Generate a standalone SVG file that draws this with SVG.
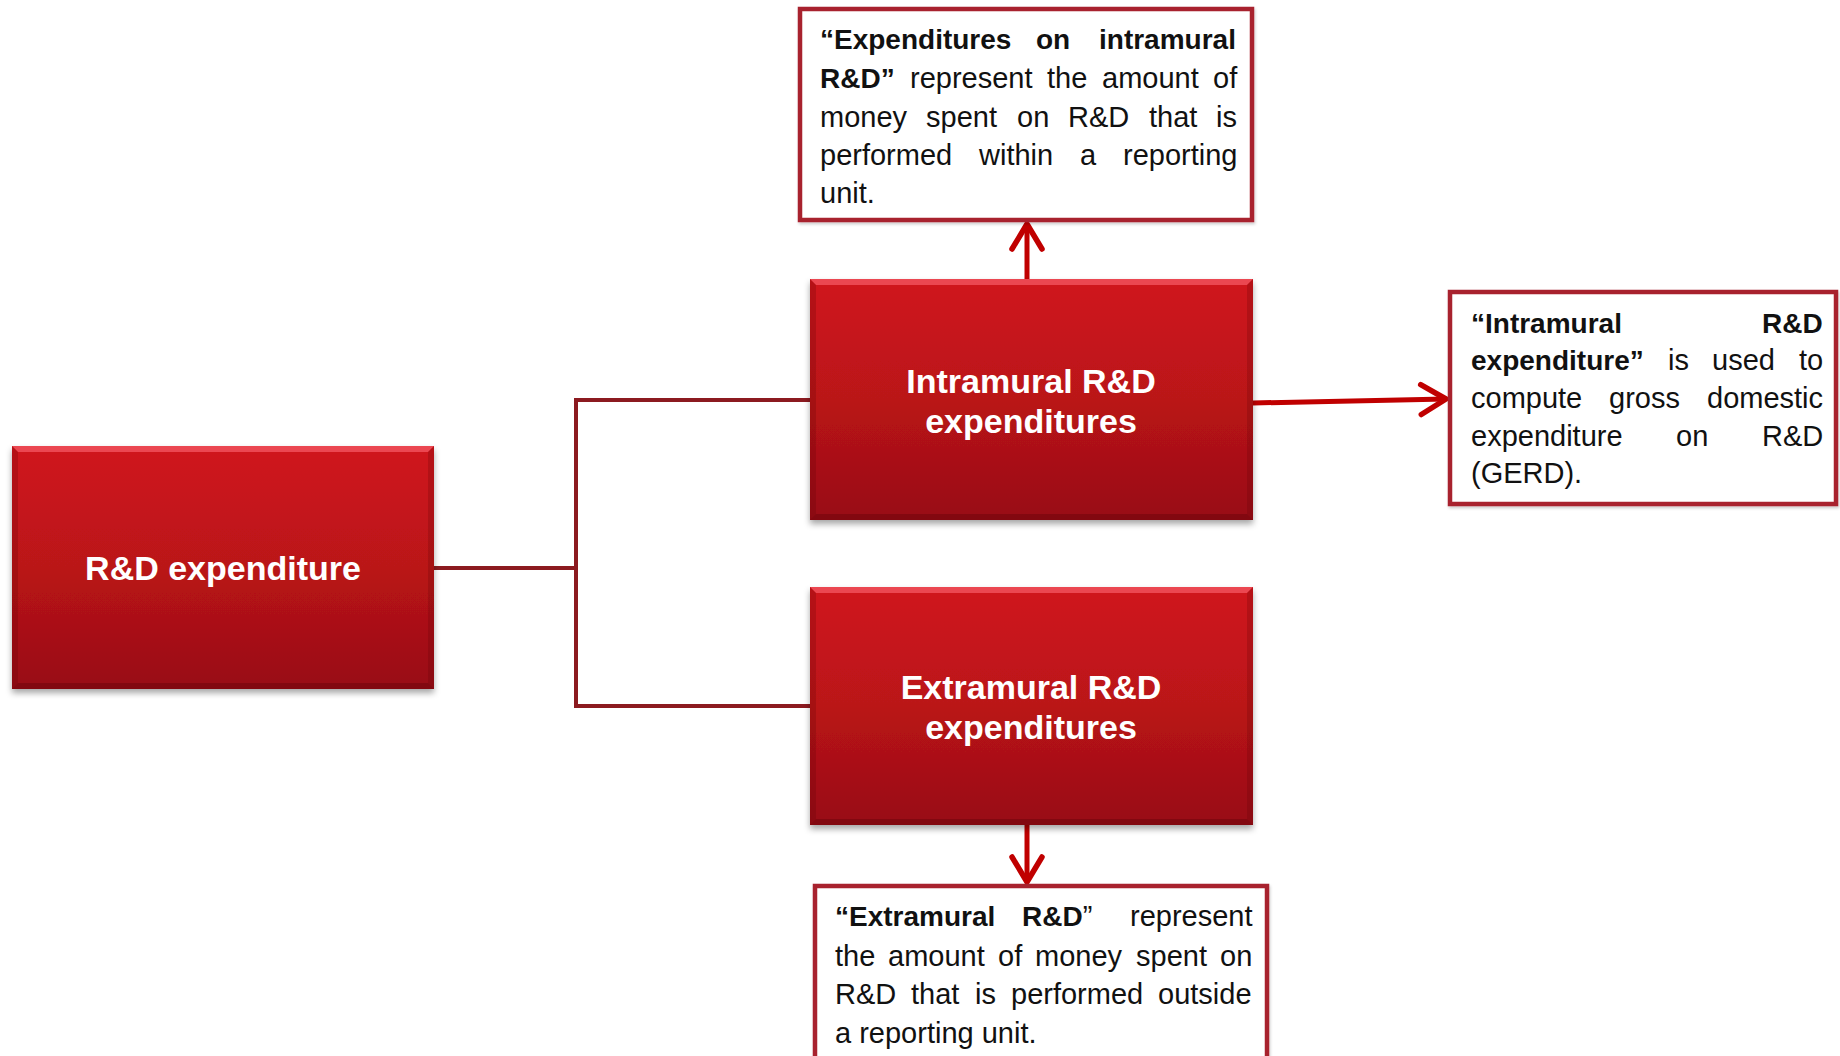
<svg xmlns="http://www.w3.org/2000/svg" width="1840" height="1056" viewBox="0 0 1840 1056">
  <style>
    .title { font-family: "Liberation Sans", Arial, sans-serif; font-weight: bold; font-size: 34px; fill: #ffffff; text-anchor: middle; }
    .note { font-family: "Liberation Sans", Arial, sans-serif; font-size: 29px; fill: #111111; }
    .b { font-weight: bold; font-size: 28px; }
    .frame { fill: #ffffff; stroke: #A8232D; stroke-width: 4.5; }
    .tree { fill: none; stroke: #8C1A20; stroke-width: 4; }
    .arrow { fill: none; stroke: #C00000; stroke-width: 5; marker-end: url(#chevron); }
    .hi { fill: #F0505A; opacity: 0.85; }
    .side { fill: #5A0006; opacity: 0.22; }
    .low { fill: #5A0006; opacity: 0.35; }
  </style>
  <defs>
    <linearGradient id="redFill" x1="0" y1="0" x2="0" y2="1">
      <stop offset="0" stop-color="#D0161C"/>
      <stop offset="0.5" stop-color="#BA1319"/>
      <stop offset="1" stop-color="#980E13"/>
    </linearGradient>
    <filter id="shade" x="-5%" y="-5%" width="110%" height="115%">
      <feDropShadow dx="0" dy="4" stdDeviation="3" flood-color="#000000" flood-opacity="0.35"/>
    </filter>
    <filter id="soft" x="-5%" y="-5%" width="110%" height="110%">
      <feDropShadow dx="1" dy="2" stdDeviation="1.5" flood-color="#000000" flood-opacity="0.2"/>
    </filter>
    <marker id="chevron" markerUnits="userSpaceOnUse" markerWidth="40" markerHeight="40" viewBox="0 0 40 40" refX="30" refY="20" orient="auto">
      <path d="M5,5 L30,20 L5,35" fill="none" stroke="#C00000" stroke-width="5.5" stroke-linecap="round" stroke-linejoin="round"/>
    </marker>
  </defs>

  <rect width="1840" height="1056" fill="#ffffff"/>

  <!-- connectors -->
  <g id="connectors">
    <path class="tree" d="M434,568 H576"/>
    <path class="tree" d="M810,400 H576 V706 H810"/>
    <path class="arrow" d="M1027,279 V224"/>
    <path class="arrow" d="M1253,403 L1446,399"/>
    <path class="arrow" d="M1027,825 V882"/>
  </g>

  <!-- root node -->
  <g id="node-rd-expenditure">
    <rect x="12" y="446" width="422" height="243" fill="url(#redFill)" filter="url(#shade)"/>
    <polygon class="hi" points="12,446 434,446 428,452 18,452"/>
    <polygon class="side" points="12,446 18,452 18,683 12,689"/>
    <polygon class="side" points="434,446 428,452 428,683 434,689"/>
    <polygon class="low" points="12,689 434,689 428,683 18,683"/>
    <text class="title" x="223" y="580">R&amp;D expenditure</text>
  </g>

  <!-- intramural node -->
  <g id="node-intramural">
    <rect x="810" y="279" width="443" height="241" fill="url(#redFill)" filter="url(#shade)"/>
    <polygon class="hi" points="810,279 1253,279 1247,285 816,285"/>
    <polygon class="side" points="810,279 816,285 816,514 810,520"/>
    <polygon class="side" points="1253,279 1247,285 1247,514 1253,520"/>
    <polygon class="low" points="810,520 1253,520 1247,514 816,514"/>
    <text class="title" x="1031" y="393">Intramural R&amp;D</text>
    <text class="title" x="1031" y="433">expenditures</text>
  </g>

  <!-- extramural node -->
  <g id="node-extramural">
    <rect x="810" y="587" width="443" height="238" fill="url(#redFill)" filter="url(#shade)"/>
    <polygon class="hi" points="810,587 1253,587 1247,593 816,593"/>
    <polygon class="side" points="810,587 816,593 816,819 810,825"/>
    <polygon class="side" points="1253,587 1247,593 1247,819 1253,825"/>
    <polygon class="low" points="810,825 1253,825 1247,819 816,819"/>
    <text class="title" x="1031" y="699">Extramural R&amp;D</text>
    <text class="title" x="1031" y="739">expenditures</text>
  </g>

  <!-- note: intramural definition -->
  <g id="note-intramural-def">
    <rect class="frame" x="800" y="9" width="452" height="211" filter="url(#soft)"/>
    <text class="note" y="49"><tspan class="b" x="820">“Expenditures</tspan><tspan class="b" x="1036">on</tspan><tspan class="b" x="1099">intramural</tspan></text>
    <text class="note" y="88"><tspan class="b" x="820">R&amp;D”</tspan><tspan x="910">represent</tspan><tspan x="1047">the</tspan><tspan x="1102">amount</tspan><tspan x="1213">of</tspan></text>
    <text class="note" y="127"><tspan x="820">money</tspan><tspan x="926">spent</tspan><tspan x="1017">on</tspan><tspan x="1068">R&amp;D</tspan><tspan x="1149">that</tspan><tspan x="1216">is</tspan></text>
    <text class="note" y="165"><tspan x="820">performed</tspan><tspan x="979">within</tspan><tspan x="1080">a</tspan><tspan x="1123">reporting</tspan></text>
    <text class="note" x="820" y="203">unit.</text>
  </g>

  <!-- note: GERD -->
  <g id="note-gerd">
    <rect class="frame" x="1450" y="292" width="386" height="212" filter="url(#soft)"/>
    <text class="note" y="333"><tspan class="b" x="1471">“Intramural</tspan><tspan class="b" x="1762">R&amp;D</tspan></text>
    <text class="note" y="370"><tspan class="b" x="1471">expenditure”</tspan><tspan x="1668">is</tspan><tspan x="1712">used</tspan><tspan x="1799">to</tspan></text>
    <text class="note" y="408"><tspan x="1471">compute</tspan><tspan x="1609">gross</tspan><tspan x="1707">domestic</tspan></text>
    <text class="note" y="446"><tspan x="1471">expenditure</tspan><tspan x="1676">on</tspan><tspan x="1762">R&amp;D</tspan></text>
    <text class="note" x="1471" y="483">(GERD).</text>
  </g>

  <!-- note: extramural definition -->
  <g id="note-extramural-def">
    <rect class="frame" x="815" y="886" width="452" height="200" filter="url(#soft)"/>
    <text class="note" y="926"><tspan class="b" x="835">“Extramural</tspan><tspan class="b" x="1022">R&amp;D</tspan><tspan>”</tspan><tspan x="1130">represent</tspan></text>
    <text class="note" y="966"><tspan x="835">the</tspan><tspan x="888">amount</tspan><tspan x="998">of</tspan><tspan x="1035">money</tspan><tspan x="1136">spent</tspan><tspan x="1220">on</tspan></text>
    <text class="note" y="1004"><tspan x="835">R&amp;D</tspan><tspan x="911">that</tspan><tspan x="975">is</tspan><tspan x="1011">performed</tspan><tspan x="1158">outside</tspan></text>
    <text class="note" x="835" y="1043">a reporting unit.</text>
  </g>
</svg>
